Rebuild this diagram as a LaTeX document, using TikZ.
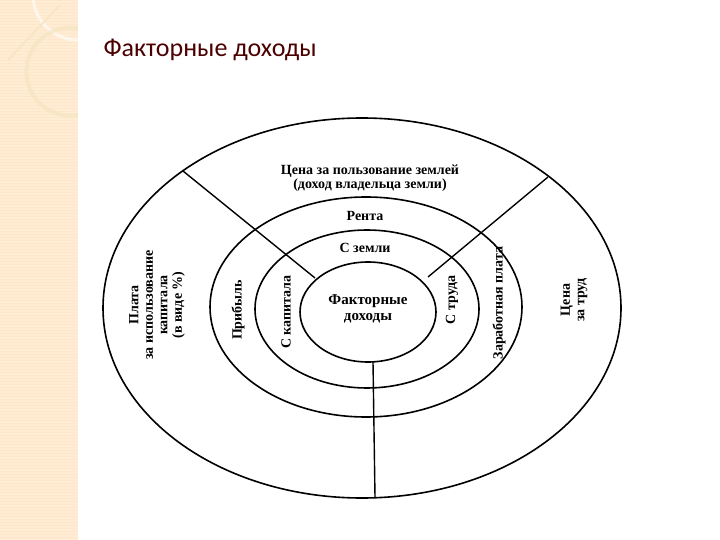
\documentclass[tikz,border=0pt]{standalone}
\usepackage{fontspec}
\setmainfont{Liberation Serif}
\newfontfamily\titlefont{Carlito}
\begin{document}
\begin{tikzpicture}[x=1pt,y=-1pt,
  ring/.style={draw=black,line width=1.6pt},
  sep/.style={draw=black,line width=1.4pt},
  lbl/.style={font=\bfseries\fontsize{14}{14.5}\selectfont,align=center,inner sep=1pt},
  vlbl/.style={lbl,rotate=90}]
\useasboundingbox (0,0) rectangle (720,540);
\fill[white] (0,0) rectangle (720,540);
\fill[yellow!15!orange!15!white] (0,0) rectangle (78,540);
\foreach \k in {0,3,...,540} \draw[orange!20!white,line width=0.6pt] (0,\k) -- (78,\k);
\draw[white,line width=3pt,opacity=0.6] (78,40) arc (90:200:45);
\draw[yellow!30!brown!30!white,line width=4pt,opacity=0.6] (78,115) arc (80:280:44);
\draw[yellow!30!brown!30!white,line width=2pt,opacity=0.6] (60,5) -- (8,60);
\node[anchor=west,font=\titlefont\fontsize{26}{28}\selectfont,text=black!50!red!60!black] (title) at (100,50) {Факторные доходы};
% rings
\draw[ring] (362,308) ellipse [x radius=259,y radius=190];
\draw[ring] (366,307) ellipse [x radius=156,y radius=110];
\draw[ring] (367,309) ellipse [x radius=112,y radius=79];
\draw[ring] (368,312) ellipse [x radius=68,y radius=50];
\coordinate (l1) at (183,171); \coordinate (l2) at (315,278);
\coordinate (r1) at (548,177); \coordinate (r2) at (428,277);
\coordinate (b1) at (373,362); \coordinate (b2) at (375,497);
\draw[sep] (l1) -- (l2); \draw[sep] (r1) -- (r2); \draw[sep] (b1) -- (b2);
\node[lbl] (t1) at (370,178) {Цена за пользование землей\\(доход владельца земли)};
\node[lbl] (t2) at (365,216) {Рента};
\node[lbl] (t3) at (365,248) {С земли};
\node[lbl,font=\bfseries\fontsize{15}{16}\selectfont] (t4) at (368,309) {Факторные\\доходы};
\node[vlbl] (t5) at (157,305) {Плата\\за использование\\капитала\\(в виде \%)};
\node[vlbl] (t6) at (238,310) {Прибыль};
\node[vlbl] (t7) at (286,312) {С капитала};
\node[vlbl] (t8) at (452,300) {С труда};
\node[vlbl] (t9) at (499,303) {Заработная плата};
\node[vlbl] (t10) at (574,300) {Цена\\за труд};
\end{tikzpicture}
\end{document}
